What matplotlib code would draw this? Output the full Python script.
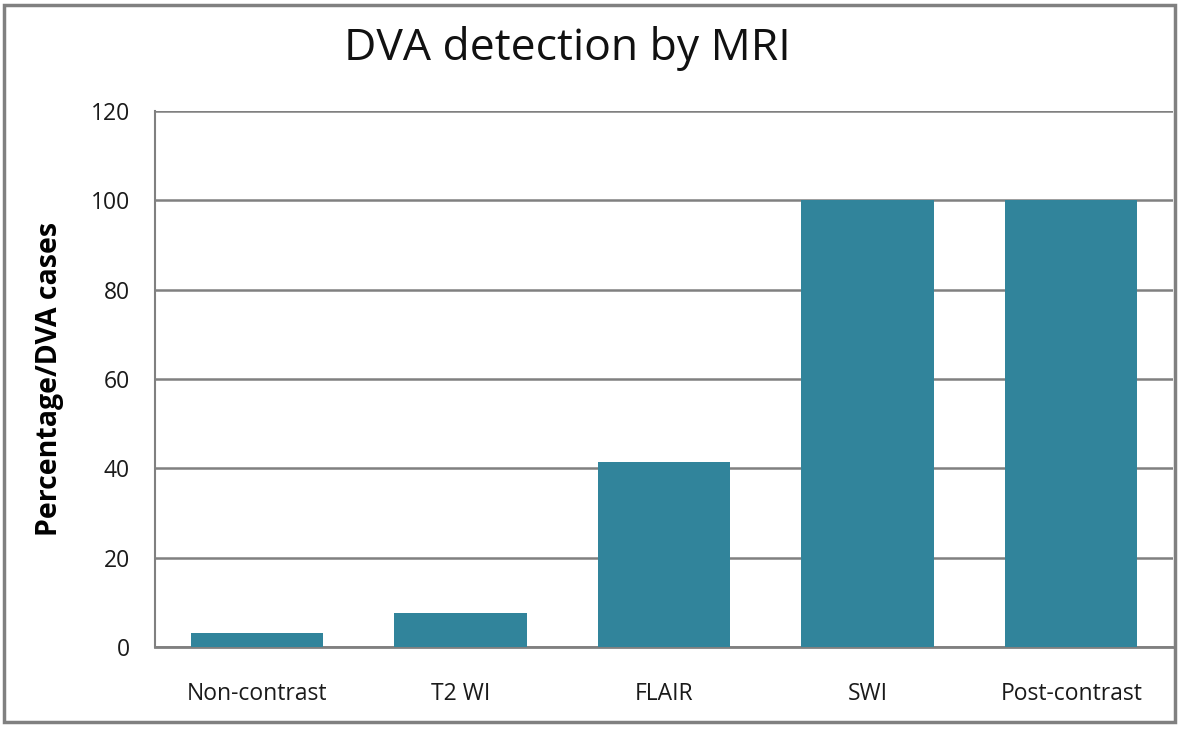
import matplotlib
matplotlib.use("Agg")
import matplotlib.pyplot as plt
from matplotlib.patches import Rectangle

categories = ["Non-contrast", "T2 WI", "FLAIR", "SWI", "Post-contrast"]
values = [3.2, 7.6, 41.5, 100, 100]
yticks = [0, 20, 40, 60, 80, 100, 120]

plt.rcParams['font.family'] = ['Open Sans', 'DejaVu Sans']

W, H = 1181, 729
fig = plt.figure(figsize=(W / 100, H / 100), dpi=100)
ax = fig.add_axes([155 / W, 1 - 647 / H, (1173 - 155) / W, (647 - 111) / H])

x = list(range(len(categories)))
ax.bar(x, values, width=0.65, color="#31849B", zorder=3)
ax.set_xlim(-0.5, len(categories) - 0.5)
ax.set_ylim(0, 120)
ax.set_yticks(yticks)
ax.set_yticklabels([str(t) for t in yticks], fontsize=16.5, color="#1a1a1a")
ax.set_xticks(x)
ax.set_xticklabels(categories, fontsize=16.5, color="#1a1a1a")
ax.tick_params(axis='y', length=0, pad=18)
ax.tick_params(axis='x', length=0, pad=25)
ax.grid(axis='y', color="#808080", linewidth=1.8, zorder=0)
for s in ['top', 'right']:
    ax.spines[s].set_visible(False)
ax.spines['left'].set_color("#808080")
ax.spines['left'].set_linewidth(1.5)
ax.spines['bottom'].set_color("#808080")
ax.spines['bottom'].set_linewidth(2)
ax.set_ylabel("Percentage/DVA cases", fontsize=20.5, fontweight='bold', labelpad=19)

fig.text(567 / W, 1 - 60 / H, "DVA detection by MRI", fontsize=32, ha='center', va='baseline', color="#111111")

fig.patches.append(Rectangle((4 / W, 1 - 722 / H), (1175 - 4) / W, (722 - 5) / H,
                             transform=fig.transFigure, fill=False,
                             edgecolor="#808080", linewidth=2.5))

fig.savefig("out.png", dpi=100)
